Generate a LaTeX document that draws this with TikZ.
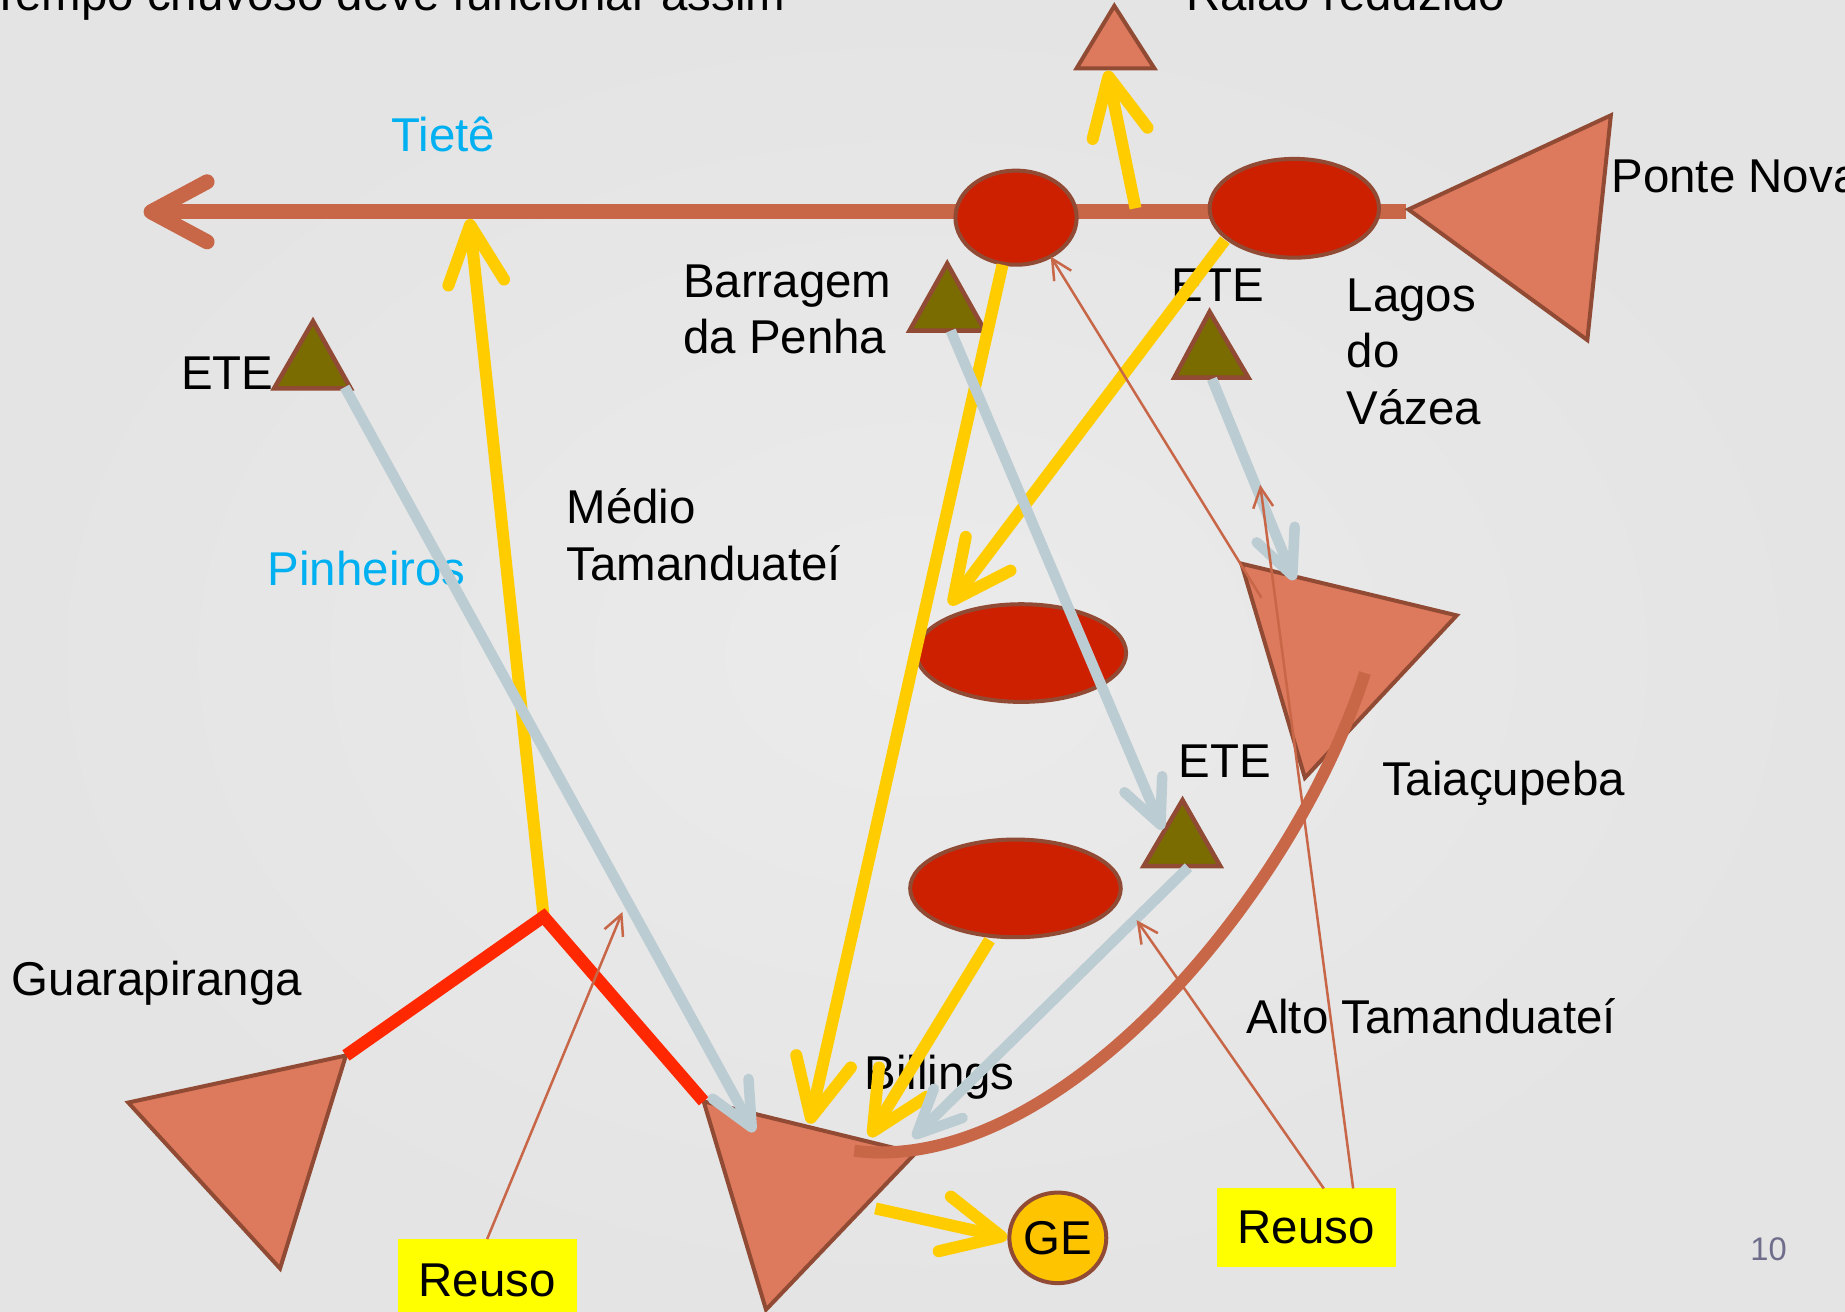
\documentclass[tikz,border=0pt]{standalone}
\usepackage{fontspec}
\setmainfont{Liberation Sans}
\usetikzlibrary{arrows.meta,shapes.geometric}
\definecolor{bgin}{RGB}{235,235,235}
\definecolor{bgout}{RGB}{228,228,228}
\definecolor{trifill}{RGB}{221,121,92}
\definecolor{edgebrown}{RGB}{145,74,52}
\definecolor{resvred}{RGB}{205,32,0}
\definecolor{etefill}{RGB}{122,108,0}
\definecolor{rivercol}{RGB}{200,102,72}
\definecolor{goldcol}{RGB}{255,204,0}
\definecolor{steelcol}{RGB}{187,204,211}
\definecolor{redcol}{RGB}{255,40,0}
\definecolor{cyancol}{RGB}{0,176,240}
\definecolor{numcol}{RGB}{110,110,140}
\definecolor{gefill}{RGB}{255,196,0}
\definecolor{reusocol}{RGB}{255,255,0}
\begin{document}
\begin{tikzpicture}[x=0.11767mm,y=-0.11767mm,
  lbl/.style={font=\fontsize{13.5}{16}\selectfont, inner sep=0pt, anchor=base west},
  bigtri/.style={fill=trifill, draw=edgebrown, line width=0.4mm, line join=miter},
  etetri/.style={fill=etefill, draw=edgebrown, line width=0.45mm, line join=miter},
  resv/.style={ellipse, fill=resvred, draw=edgebrown, line width=0.4mm, inner sep=0pt},
  tietearrow/.style={draw=rivercol, line width=1.5mm, -{Straight Barb[length=5.6mm,width=6mm,round]}},
  goldarrow/.style={draw=goldcol, line width=1.2mm, -{Straight Barb[length=5.8mm,width=5.6mm,round]}},
  steelarrow/.style={draw=steelcol, line width=1.05mm, -{Straight Barb[length=4.4mm,width=4.1mm,round]}},
  thinarrow/.style={draw=rivercol, line width=0.25mm, -{Straight Barb[length=2mm,width=2mm]}},
  redlink/.style={draw=redcol, line width=1.25mm, line join=miter},
  rivercurve/.style={draw=rivercol, line width=1.2mm},
  reusobox/.style={fill=reusocol},
]
\useasboundingbox (0,0) rectangle (1568,1115);
\clip (0,0) rectangle (1568,1115);
\shade[inner color=bgin, outer color=bgout] (0,0) rectangle (1568,1115);

% ---------- named points ----------
\coordinate (tieteE) at (1195,180);
\coordinate (tieteW) at (122,180);
\coordinate (tieteJ) at (399,186);
\coordinate (outS) at (965,177);
\coordinate (outT) at (941,60);
\coordinate (guarT) at (294,897);
\coordinate (junc) at (462,779);
\coordinate (bilTL) at (598,936);
\coordinate (penS) at (852,225);
\coordinate (bilA) at (688,955);
\coordinate (vazS) at (1041,204);
\coordinate (medT) at (807,514);
\coordinate (bilResS) at (841,799);
\coordinate (bilB) at (739,966);
\coordinate (bilOut) at (744,1027);
\coordinate (geW) at (856,1052);
\coordinate (eteLout) at (293,329);
\coordinate (bilC) at (641,962);
\coordinate (etePout) at (808,281);
\coordinate (eteBin) at (988,705);
\coordinate (eteVout) at (1030,322);
\coordinate (taiT) at (1100,493);
\coordinate (eteBout) at (1010,737);
\coordinate (bilD) at (776,967);
\coordinate (curveS) at (726,978);
\coordinate (curveE) at (1160,572);
\coordinate (reuLtop) at (414,1053);
\coordinate (reuLtip) at (529,775);
\coordinate (reuRa) at (1125,1010);
\coordinate (reuRatip) at (966,782);
\coordinate (reuRb) at (1150,1010);
\coordinate (reuRbtip) at (1071,412);
\coordinate (taiTL) at (1072,508);
\coordinate (penSE) at (893,218);

% ---------- Tiete river ----------
\draw[tietearrow] (tieteE) -- (tieteW);

% ---------- reservoirs (triangles) ----------
\draw[bigtri] (947,5) -- (981,58) -- (915,58) -- cycle;
\draw[bigtri] (1197,178) -- (1369,98) -- (1349,289) -- cycle;
\draw[bigtri] (1055,479) -- (1238,523) -- (1109,661) -- cycle;
\draw[bigtri] (598,936) -- (778,980) -- (651,1113) -- cycle;
\draw[bigtri] (109,937) -- (294,897) -- (238,1078) -- cycle;

% ---------- ETE ----------
\draw[etetri] (266,273) -- (298,330) -- (233,330) -- cycle;
\draw[etetri] (805,224) -- (837,281) -- (773,281) -- cycle;
\draw[etetri] (1028,265) -- (1061,321) -- (998,321) -- cycle;
\draw[etetri] (1005,680) -- (1037,736) -- (972,736) -- cycle;

% ---------- ellipses ----------
\node[resv, minimum width=12.12mm, minimum height=9.41mm] (penha) at (863.5,185) {};
\node[resv, minimum width=16.94mm, minimum height=9.88mm] (vazea) at (1100,177) {};
\node[resv, minimum width=20.95mm, minimum height=9.77mm] (medres) at (868,555) {};
\node[resv, minimum width=21.06mm, minimum height=9.77mm] (bilres) at (863,755) {};
\node[ellipse, fill=gefill, draw=edgebrown, line width=0.4mm, inner sep=0pt,
      minimum width=9.65mm, minimum height=9.06mm,
      font=\fontsize{13.5}{16}\selectfont] (ge) at (899,1052) {GE};

% ---------- Reuso boxes ----------
\fill[reusobox] (338,1053) rectangle (490,1130);
\node[lbl, anchor=base] (reusoL) at (414,1102) {Reuso};
\node[reusobox, minimum width=17.89mm, minimum height=7.88mm, inner sep=0pt,
      font=\fontsize{13.5}{16}\selectfont] (reusoR) at (1110,1043.5) {Reuso};

% ---------- labels ----------
\node[lbl, anchor=base east] (title) at (668,9) {Tempo chuvoso deve funcionar assim};
\node[lbl, anchor=base east] (ralao) at (1280,9) {Ralão reduzido};
\node[lbl, text=cyancol] (tiete) at (332,129) {Tietê};
\node[lbl] (ponte) at (1369,164) {Ponte Nova};
\node[lbl] (barr1) at (580,253) {Barragem};
\node[lbl] (barr2) at (580,300) {da Penha};
\node[lbl, anchor=base east] (eteL) at (233,331) {ETE};
\node[lbl] (eteV) at (995,256) {ETE};
\node[lbl] (lag1) at (1144,265) {Lagos};
\node[lbl] (lag2) at (1144,312) {do};
\node[lbl] (lag3) at (1144,361) {Vázea};
\node[lbl] (med1) at (481,445) {Médio};
\node[lbl] (med2) at (481,493) {Tamanduateí};
\node[lbl, text=cyancol] (pinh) at (227,498) {Pinheiros};
\node[lbl] (eteB) at (1001,661) {ETE};
\node[lbl] (taia) at (1174,676) {Taiaçupeba};
\node[lbl] (guar) at (9.5,846) {Guarapiranga};
\node[lbl] (alto) at (1059,878) {Alto Tamanduateí};
\node[lbl] (bill) at (734,926) {Billings};
\node[font=\fontsize{9.3}{11}\selectfont, text=numcol, inner sep=0pt] (pnum) at (1503,1062) {10};

% ---------- yellow flows ----------
\draw[goldarrow] (junc) -- (tieteJ);
\draw[goldarrow] (outS) -- (outT);
\draw[goldarrow] (penS) -- (bilA);
\draw[goldarrow] (vazS) -- (medT);
\draw[goldarrow] (bilResS) -- (bilB);
\draw[goldarrow] (bilOut) -- (geW);

% ---------- red link ----------
\draw[redlink] (guarT) -- (junc) -- (bilTL);

% ---------- steel (ETE) flows ----------
\draw[steelarrow] (eteLout) -- (bilC);
\draw[steelarrow] (etePout) -- (eteBin);
\draw[steelarrow] (eteVout) -- (taiT);
\draw[steelarrow] (eteBout) -- (bilD);

% ---------- Alto Tamanduatei river ----------
\draw[rivercurve] (curveS) .. controls (900,1000) and (1100,760) .. (curveE);

% ---------- reuse arrows ----------
\draw[thinarrow] (reuLtop) -- (reuLtip);
\draw[thinarrow] (reuRa) -- (reuRatip);
\draw[thinarrow] (reuRb) -- (reuRbtip);
\draw[thinarrow] (taiTL) -- (penSE);
\end{tikzpicture}
\end{document}
